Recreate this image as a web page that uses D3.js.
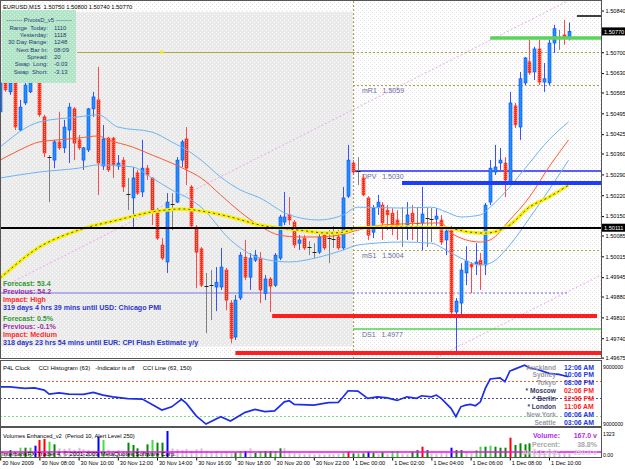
<!DOCTYPE html>
<html><head><meta charset="utf-8">
<script src="https://cdnjs.cloudflare.com/ajax/libs/d3/7.8.5/d3.min.js"></script>
<style>body{margin:0;background:#fff;}svg{display:block;font-family:"Liberation Sans",Arial,sans-serif;}</style>
</head><body><svg id="c" width="625" height="469"></svg>
<script>
// ---------------- DATA ----------------
const titleText = "EURUSD,M15  1.50750 1.50800 1.50740 1.50770";
const opens = [1.50500,1.50597,1.50567,1.50597,1.50439,1.50530,1.50567,1.50641,1.50597,1.50483,
1.50352,1.50338,1.50399,1.50379,1.50439,1.50510,1.50406,1.50338,1.50372,1.50510,
1.50540,1.50318,1.50412,1.50412,1.50318,1.50338,1.50221,1.50211,1.50295,1.50231,
1.50311,1.50278,1.50170,1.50053,1.49996,1.50187,1.50197,1.50338,1.50409,1.50248,
1.50113,1.50040,1.49912,1.49918,1.49912,1.49912,1.49969,1.49858,1.49744,1.49875,
1.50012,1.49945,1.50002,1.50009,1.49891,1.49939,1.49918,1.50009,1.50130,1.50154,
1.50130,1.50059,1.50076,1.50043,1.50029,1.50029,1.50086,1.50080,1.50076,1.50080,
1.50043,1.50217,1.50328,1.50305,1.50278,1.50211,1.50096,1.50180,1.50187,1.50170,
1.50160,1.50137,1.50117,1.50120,1.50160,1.50130,1.50127,1.50147,1.50143,1.50140,
1.50137,1.50070,1.50110,1.49828,1.49858,1.49959,1.49989,1.49989,1.50002,1.49986,
1.50197,1.50298,1.50328,1.50328,1.50264,1.50520,1.50449,1.50597,1.50668,1.50634,
1.50711,1.50600,1.50597,1.50731,1.50745,1.50758,1.50750];
const highs = [1.50607,1.50607,1.50614,1.50607,1.50540,1.50624,1.50641,1.50674,1.50624,1.50490,
1.50355,1.50406,1.50500,1.50473,1.50530,1.50516,1.50422,1.50382,1.50513,1.50567,
1.50651,1.50456,1.50416,1.50416,1.50355,1.50348,1.50278,1.50315,1.50305,1.50406,
1.50322,1.50280,1.50177,1.50076,1.50227,1.50227,1.50348,1.50406,1.50449,1.50254,
1.50120,1.50046,1.49959,1.49969,1.49979,1.50043,1.49976,1.49868,1.49885,1.50029,
1.50070,1.50026,1.50036,1.50029,1.49952,1.49945,1.50026,1.50154,1.50231,1.50214,
1.50137,1.50086,1.50086,1.50066,1.50059,1.50096,1.50096,1.50103,1.50117,1.50103,
1.50248,1.50389,1.50338,1.50348,1.50288,1.50217,1.50187,1.50221,1.50197,1.50187,
1.50177,1.50170,1.50180,1.50197,1.50187,1.50180,1.50248,1.50180,1.50177,1.50177,
1.50154,1.50113,1.50117,1.49875,1.49992,1.50049,1.49996,1.50059,1.50026,1.50194,
1.50338,1.50389,1.50379,1.50348,1.50567,1.50530,1.50634,1.50684,1.50742,1.50718,
1.50742,1.50664,1.50742,1.50792,1.50775,1.50809,1.50800];
const lows = [1.50490,1.50567,1.50557,1.50439,1.50436,1.50523,1.50563,1.50597,1.50483,1.50348,
1.50197,1.50311,1.50372,1.50362,1.50328,1.50338,1.50372,1.50305,1.50365,1.50483,
1.50221,1.50305,1.50298,1.50278,1.50305,1.50231,1.50170,1.50113,1.50221,1.50214,
1.50271,1.50120,1.50070,1.50002,1.49959,1.50103,1.50194,1.50315,1.50254,1.50110,
1.49908,1.49912,1.49757,1.49801,1.49831,1.49902,1.49834,1.49723,1.49734,1.49868,
1.49935,1.49902,1.49996,1.49858,1.49868,1.49828,1.49912,1.50002,1.50120,1.50120,
1.50043,1.50036,1.50036,1.50019,1.50009,1.50023,1.50036,1.49992,1.50043,1.50036,
1.50036,1.50211,1.50288,1.50254,1.50217,1.50070,1.50076,1.50154,1.50070,1.50103,
1.50086,1.50070,1.50046,1.50070,1.50070,1.50063,1.50036,1.50046,1.50063,1.50117,
1.50053,1.50019,1.49821,1.49693,1.49821,1.49918,1.49891,1.49952,1.49902,1.49952,
1.50187,1.50288,1.50305,1.50214,1.50261,1.50446,1.50406,1.50590,1.50624,1.50607,
1.50590,1.50567,1.50590,1.50698,1.50708,1.50725,1.50740];
const closes = [1.50597,1.50574,1.50597,1.50449,1.50516,1.50590,1.50597,1.50607,1.50490,1.50362,
1.50350,1.50399,1.50379,1.50449,1.50516,1.50395,1.50379,1.50379,1.50510,1.50550,
1.50328,1.50409,1.50305,1.50322,1.50328,1.50248,1.50223,1.50278,1.50227,1.50311,
1.50288,1.50170,1.50076,1.50009,1.50197,1.50189,1.50338,1.50399,1.50311,1.50117,
1.50029,1.49918,1.49914,1.49920,1.49928,1.49979,1.49868,1.49740,1.49868,1.50019,
1.49945,1.50009,1.50019,1.49902,1.49939,1.49915,1.50019,1.50147,1.50147,1.50137,
1.50053,1.50070,1.50043,1.50045,1.50031,1.50080,1.50043,1.50078,1.50074,1.50043,
1.50211,1.50338,1.50298,1.50303,1.50221,1.50086,1.50177,1.50197,1.50127,1.50154,
1.50120,1.50113,1.50115,1.50154,1.50130,1.50128,1.50157,1.50145,1.50141,1.50150,
1.50063,1.50100,1.49828,1.49865,1.49969,1.49999,1.49979,1.49996,1.49986,1.50187,
1.50311,1.50315,1.50338,1.50271,1.50530,1.50456,1.50611,1.50681,1.50631,1.50711,
1.50600,1.50611,1.50731,1.50779,1.50747,1.50752,1.50770];

// moving averages / bands: [bar index, price]
const bandUpper = [[0,1.50382],[8,1.50466],[16,1.50483],[20,1.50490],[24,1.50449],[31,1.50432],[35,1.50399],[39,1.50362],[41,1.50338],[45,1.50281],[49,1.50238],[53,1.50211],[59,1.50154],[65,1.50137],[70,1.50154],[73,1.50180],[82,1.50177],[88,1.50180],[91,1.50164],[94,1.50147],[98,1.50154],[100,1.50180],[104,1.50248],[108,1.50328],[112,1.50406],[116,1.50466]];
const maMiddle = [[0,1.50338],[4,1.50372],[8,1.50399],[12,1.50406],[16,1.50412],[20,1.50419],[22,1.50406],[27,1.50382],[31,1.50355],[35,1.50328],[38,1.50305],[41,1.50278],[45,1.50221],[49,1.50164],[53,1.50117],[57,1.50086],[61,1.50080],[65,1.50080],[69,1.50086],[73,1.50103],[78,1.50120],[90,1.50127],[92,1.50093],[98,1.50063],[100,1.50070],[104,1.50137],[108,1.50214],[112,1.50315],[116,1.50406]];
const bandLower = [[0,1.50278],[8,1.50298],[16,1.50311],[20,1.50322],[27,1.50315],[31,1.50278],[35,1.50238],[39,1.50204],[41,1.50180],[47,1.50070],[53,1.50009],[59,1.49996],[65,1.50012],[70,1.50036],[73,1.50053],[82,1.50063],[88,1.50059],[91,1.50036],[94,1.50009],[98,1.49986],[100,1.49992],[104,1.50053],[108,1.50143],[112,1.50238],[116,1.50338]];
const maSlow = [[0,1.49942],[8,1.50046],[16,1.50103],[24,1.50137],[31,1.50164],[37,1.50174],[41,1.50167],[47,1.50147],[53,1.50120],[61,1.50103],[67,1.50093],[70,1.50096],[73,1.50110],[82,1.50113],[91,1.50110],[96,1.50096],[99,1.50093],[104,1.50120],[108,1.50180],[112,1.50214],[116,1.50254]];

// trend lines (pink dotted): [bar index, price] end points
const trendA = [[0,1.49908],[116.3,1.50876]];
const trendB = [[88.3,1.49670],[122.6,1.49952]];

// horizontal objects: price, from bar, to bar, kind
const hlPrice = [1.50111,1.50822,1.50748,1.50701,1.50701,1.50590,1.50300,1.50261,1.50035,1.49892,1.49892,1.49813,1.49770,1.49692];
const hlFrom  = [-1,117.7,100,15.7,72,72,72,82,72,-1,72,55.5,72,48];
const hlTo    = [123,123,123,72,123,123,123,123,123,72,115.7,121.8,123,123];
const hlKind  = ["black","blackThin","green","oliveSolid","olive","olive","dpv","blueThick","olive","lav","lavDot","red","ds","red"];
const pivotNames = ["mR1","DPV","mS1","DS1"];
const pivotLevels = [1.5059,1.5030,1.5004,1.4977];
const pivotLinePrice = [1.50590,1.50300,1.50035,1.49770];

// session shading box [from bar, to bar, low, high]
const sessionBox = [-1,72,1.49713,1.50836];
const daySepIdx = 72;

const priceTicks = [1.50840,1.50700,1.50630,1.50565,1.50495,1.50425,1.50360,1.50290,1.50220,1.50150,1.50085,1.50015,1.49945,1.49880,1.49810,1.49740,1.49675];
const priceBoxes = [1.50770,1.50111];

const timeIdx = [0,8,16,24,32,40,48,56,64,72,80,88,96,104,112];
const timeLabels = ["30 Nov 2009","30 Nov 08:00","30 Nov 10:00","30 Nov 12:00","30 Nov 14:00","30 Nov 16:00","30 Nov 18:00","30 Nov 20:00","30 Nov 22:00","1 Dec 00:00","1 Dec 02:00","1 Dec 04:00","1 Dec 06:00","1 Dec 08:00","1 Dec 10:00"];

// CCI line [bar index, value]
const cci = [[0,67],[2,67],[5,58],[7,61],[9,48],[10,25],[12,32],[14,25],[17,23],[19,35],[21,19],[23,9],[26,-2],[29,-4],[31,-35],[33,-68],[35,-49],[37,-6],[38,-29],[40,-101],[42,-149],[45,-106],[47,-131],[50,-81],[52,-64],[54,-77],[56,-73],[58,-20],[59,-14],[60,-35],[64,-39],[67,-25],[69,-23],[70,9],[71,44],[73,42],[75,0],[77,9],[79,3],[81,-12],[83,9],[85,0],[86,15],[88,9],[89,19],[90,0],[92,-58],[93,-106],[94,-49],[95,-39],[96,-35],[97,-43],[98,-20],[99,58],[100,112],[102,119],[103,96],[104,158],[105,169],[107,192],[108,177],[110,164],[112,145],[114,139],[116,125]];
const cciLevels = [100,0,-100];
const cciAxisLabels = ["9000000","9000000"];

// volumes
const volumes = [260,200,343,230,456,456,456,554,833,882,750,622,426,400,430,350,450,380,350,300,995,833,350,300,350,300,701,588,426,300,622,833,701,701,1275,420,380,340,400,300,380,420,300,250,300,230,260,200,220,294,294,426,200,294,294,294,294,426,426,294,200,180,150,170,140,160,130,150,140,170,190,260,181,181,181,260,211,150,230,150,294,294,160,150,260,343,505,343,180,170,200,200,456,343,343,260,200,343,505,505,554,505,456,456,946,588,672,622,672,400,350,300,400,350,300,200,167];
const volClass = "dgdgldlbrrldggggggggblggggdddgdlddbgggggggggggggdlbgdlddldgggggggggggglrdldbdgdgllggddrdggggbddgglldldddrddddgggggggg";
const volMax = 1323, volAlert = 250;
const volInfoLabels = ["Volume:","Percent:","Alert Level:"];
const volInfoValues = ["167.0 v","38.8%","250.0 v"];

// pivot info box
const pivotBoxTitle = "-------- PivotsD_v5 --------";
const pivotBoxLabels = ["Range  Today:","Yesterday:","30 Day Range:","Next Bar In:","Spread:","Swap  Long:","Swap  Short:"];
const pivotBoxValues = ["1110","1118","1248","08:09","20","-0.03","-3.13"];

// news
const newsLines = ["Forecast: 53.4","Previous: 54.2","Impact: High","319 days 4 hrs 39 mins until USD: Chicago PMI","Forecast: 0.5%","Previous: -0.1%","Impact: Medium","318 days 23 hrs 54 mins until EUR: CPI Flash Estimate y/y"];
const newsKind = ["f","p","i","d","f","p","i","d"];

// clock
const clockCities = ["Auckland","Sydney","Tokyo","* Moscow","* Berlin","* London","New York","Seattle"];
const clockTimes = ["12:06 AM","10:06 PM","08:06 PM","02:06 PM","12:06 PM","11:06 AM","06:06 AM","03:06 AM"];
const clockOpen = [0,0,0,1,1,1,0,0];

const cciTitle = "P4L Clock     CCI Histogram (63)   -Indicator is off     CCI Line (63, 150)";
const volTitle = "Volumes Enhanced_v2  (Period 10, Alert Level 250)";
const copyright = "InterbankFX-Trader 4, \u00A9 2001-2009 MetaQuotes Software Corp.";

// ---------------- DRAW ----------------
const svg = d3.select("#c");
const defs = svg.append("defs");
function dotPat(id,bg,dot){
  const p = defs.append("pattern").attr("id",id).attr("width",4).attr("height",4).attr("patternUnits","userSpaceOnUse");
  p.append("rect").attr("width",4).attr("height",4).attr("fill",bg);
  p.append("rect").attr("x",0).attr("y",0).attr("width",1).attr("height",1).attr("fill",dot);
  p.append("rect").attr("x",2).attr("y",2).attr("width",1).attr("height",1).attr("fill",dot);
}
dotPat("pGray","#eaeaea","#fafafa");
dotPat("pWhite","#ffffff","#e2e2e2");
dotPat("pBox","#b2e4c8","#d6f2e2");
const bp = defs.append("pattern").attr("id","pBear").attr("width",2).attr("height",2).attr("patternUnits","userSpaceOnUse");
bp.append("rect").attr("width",2).attr("height",2).attr("fill","#ff2a1a");
bp.append("rect").attr("width",1).attr("height",1).attr("fill","#ff9a70");

const xR = 601;
const x = d3.scaleLinear().domain([0,116]).range([0.2,568.6]);
const y = d3.scaleLinear().domain([1.49675,1.50860]).range([357.6,4.6]);
const yc = d3.scaleLinear().domain([-160,222]).range([426,360]);
const yv = d3.scaleLinear().domain([0,volMax]).range([457,430]);

defs.append("clipPath").attr("id","clipMain").append("rect").attr("x",0).attr("y",1).attr("width",xR).attr("height",357);
defs.append("clipPath").attr("id","clipCci").append("rect").attr("x",0).attr("y",361).attr("width",xR).attr("height",65);
defs.append("clipPath").attr("id","clipVol").append("rect").attr("x",0).attr("y",428).attr("width",xR).attr("height",29);

// backgrounds
svg.append("rect").attr("x",0).attr("y",0).attr("width",625).attr("height",469).attr("fill","#fff");
svg.append("rect").attr("x",0).attr("y",1).attr("width",xR).attr("height",357).attr("fill","url(#pWhite)");
const main = svg.append("g").attr("clip-path","url(#clipMain)");
main.append("rect").attr("x",x(sessionBox[0])).attr("y",y(sessionBox[3]))
  .attr("width",x(sessionBox[1])-x(sessionBox[0])).attr("height",y(sessionBox[2])-y(sessionBox[3]))
  .attr("fill","url(#pGray)");

// day separator
main.append("line").attr("x1",Math.round(x(daySepIdx))+0.5).attr("x2",Math.round(x(daySepIdx))+0.5)
  .attr("y1",1).attr("y2",358).attr("stroke","#a8a050").attr("stroke-dasharray","2,2");

// trend lines
[trendA,trendB].forEach(t=>{
  main.append("line").attr("x1",x(t[0][0])).attr("y1",y(t[0][1])).attr("x2",x(t[1][0])).attr("y2",y(t[1][1]))
    .attr("stroke","#e8a8e8").attr("stroke-width",1).attr("stroke-dasharray","2,2");
});

const styleMap = {
  black:{c:"#000",w:2,d:null},
  blackThin:{c:"#000",w:1.5,d:null},
  green:{c:"#5ad35a",w:3.5,d:null},
  olive:{c:"#aea24a",w:1,d:"2,2"},
  oliveSolid:{c:"#b4a844",w:1,d:null},
  dpv:{c:"#2828ff",w:1.5,d:null},
  blueThick:{c:"#1e3cff",w:4,d:null},
  lav:{c:"#9c9ce8",w:1.5,d:null},
  lavDot:{c:"#9c9ce8",w:1.5,d:"2,2"},
  red:{c:"#ff1e1e",w:4,d:null},
  ds:{c:"#55d055",w:1.5,d:null}
};
const underKinds = new Set(["olive","oliveSolid","lav","lavDot","ds","dpv"]);
function drawLevels(filter){
  hlPrice.forEach((p,k)=>{
    if(!filter(hlKind[k])) return;
    const s = styleMap[hlKind[k]];
    const yy = Math.round(y(p)) + (s.w%2===1?0.5:0);
    const l = main.append("line").attr("x1",Math.max(0,x(hlFrom[k]))).attr("x2",Math.min(xR,x(hlTo[k])))
      .attr("y1",yy).attr("y2",yy).attr("stroke",s.c).attr("stroke-width",s.w);
    if(s.d) l.attr("stroke-dasharray",s.d);
  });
}
drawLevels(k=>underKinds.has(k));

// pivot labels
pivotNames.forEach((n,k)=>{
  main.append("text").attr("x",x(daySepIdx)+9).attr("y",y(pivotLinePrice[k])+8)
    .attr("font-size",7).attr("fill","#6a6aa0").attr("xml:space","preserve")
    .text(n+"   "+pivotLevels[k].toFixed(4));
});

// candles
const cg = main.append("g");
opens.forEach((o,i)=>{
  const c = closes[i], h = highs[i], l = lows[i];
  const cx = Math.round(x(i));
  const doji = Math.abs(o-c) < 0.000025;
  const bull = c > o;
  const wickCol = doji ? "#808080" : (bull ? "#3a50ff" : "#ff4a4a");
  cg.append("line").attr("x1",cx+0.5).attr("x2",cx+0.5).attr("y1",y(h)).attr("y2",y(l))
    .attr("stroke",wickCol).attr("stroke-width",1);
  if(doji){
    cg.append("line").attr("x1",cx-1.5).attr("x2",cx+2.5).attr("y1",Math.round(y(c))+0.5).attr("y2",Math.round(y(c))+0.5)
      .attr("stroke","#202020").attr("stroke-width",1);
  } else {
    const top = Math.min(y(o),y(c)), ht = Math.max(1.5,Math.abs(y(o)-y(c)));
    cg.append("rect").attr("x",cx-1).attr("y",top).attr("width",3).attr("height",ht)
      .attr("fill",bull ? "#1e90ff" : "url(#pBear)")
      .attr("stroke",bull ? "#0a4cf0" : "#ff2a1a").attr("stroke-width",0.6);
  }
});

// bands and MAs
const lineGen = d3.line().x(d=>x(d[0])).y(d=>y(d[1])).curve(d3.curveMonotoneX);
main.append("path").attr("d",lineGen(bandUpper)).attr("fill","none").attr("stroke","#6cb4f4").attr("stroke-width",1);
main.append("path").attr("d",lineGen(bandLower)).attr("fill","none").attr("stroke","#6cb4f4").attr("stroke-width",1);
main.append("path").attr("d",lineGen(maMiddle)).attr("fill","none").attr("stroke","#ff5a32").attr("stroke-width",1);
main.append("path").attr("d",lineGen(maSlow)).attr("fill","none").attr("stroke","#f8f000").attr("stroke-width",3.5);
main.append("path").attr("d",lineGen(maSlow)).attr("fill","none").attr("stroke","#303000").attr("stroke-width",0.8).attr("stroke-dasharray","2,3");

drawLevels(k=>!underKinds.has(k));

main.append("circle").attr("cx",x(33)).attr("cy",y(hlPrice[3])).attr("r",1.8).attr("fill","#f0f000");

// title
svg.append("text").attr("x",3).attr("y",8.5).attr("font-size",5.8).attr("fill","#000").attr("xml:space","preserve").text(titleText);

// pivot box
svg.append("rect").attr("x",2).attr("y",10).attr("width",74).attr("height",73).attr("fill","url(#pBox)");
svg.append("text").attr("x",39).attr("y",22).attr("text-anchor","middle").attr("font-size",6).attr("fill","#2a3a70").attr("xml:space","preserve").text(pivotBoxTitle);
pivotBoxLabels.forEach((lb,k)=>{
  const yy = 29.5 + k*7.35;
  svg.append("text").attr("x",48).attr("y",yy).attr("text-anchor","end").attr("font-size",6).attr("fill","#2a3a70").attr("xml:space","preserve").text(lb);
  svg.append("text").attr("x",54).attr("y",yy).attr("font-size",6).attr("fill","#2a3a70").text(pivotBoxValues[k]);
});

// news
const newsCol = {f:"#2f9a2f",p:"#9a2fa8",i:"#ff2a2a",d:"#2a36cc"};
newsLines.forEach((t,k)=>{
  const yy = 285.8 + k*8 + (k>=4?3:0);
  svg.append("text").attr("x",3).attr("y",yy).attr("font-size",7.1).attr("font-weight","bold").attr("fill",newsCol[newsKind[k]]).text(t);
});

// price axis
const ax = svg.append("g").attr("transform",`translate(${xR},0)`)
  .call(d3.axisRight(y).tickValues(priceTicks).tickFormat(d3.format(".5f")).tickSize(3).tickPadding(1.5));
ax.select(".domain").remove();
ax.selectAll("text").attr("font-size",5.6).attr("fill","#000").attr("font-family","Liberation Sans, Arial");
ax.selectAll("line").attr("stroke","#000");
priceBoxes.forEach(p=>{
  svg.append("rect").attr("x",xR+1).attr("y",y(p)-4).attr("width",24).attr("height",8).attr("fill","#000");
  svg.append("text").attr("x",xR+3).attr("y",y(p)+2.2).attr("font-size",5.6).attr("fill","#fff").text(p.toFixed(5));
});

// ---- CCI panel ----
const cg2 = svg.append("g").attr("clip-path","url(#clipCci)");
const levCol = ["#ff5a1e","#4a4a8a","#7cd87c"];
cciLevels.forEach((v,k)=>{
  cg2.append("line").attr("x1",0).attr("x2",xR).attr("y1",Math.round(yc(v))+0.5).attr("y2",Math.round(yc(v))+0.5)
    .attr("stroke",levCol[k]).attr("stroke-dasharray","2,2").attr("stroke-width",1);
});
cg2.append("path").attr("d",d3.line().x(d=>x(d[0])).y(d=>yc(d[1])).curve(d3.curveLinear)(cci))
  .attr("fill","none").attr("stroke","#1c2ee8").attr("stroke-width",1.7);
svg.append("text").attr("x",3).attr("y",369.5).attr("font-size",6).attr("fill","#000").attr("xml:space","preserve").text(cciTitle);
clockCities.forEach((c,k)=>{
  const yy = 369.5 + k*7.95;
  svg.append("text").attr("x",556).attr("y",yy).attr("text-anchor","end").attr("font-size",6.6).attr("font-weight","bold")
    .attr("fill",clockOpen[k] ? "#3a3a6e" : "#9a9aa6").attr("xml:space","preserve").text(c);
  svg.append("text").attr("x",564).attr("y",yy).attr("font-size",6.9).attr("font-weight","bold")
    .attr("fill",clockOpen[k] ? "#ff1e1e" : "#2438dc").text(clockTimes[k]);
});
svg.append("text").attr("x",603).attr("y",369).attr("font-size",5.2).attr("fill","#000").text(cciAxisLabels[0]);
svg.append("text").attr("x",603).attr("y",426).attr("font-size",5.2).attr("fill","#000").text(cciAxisLabels[1]);

// ---- Volume panel ----
const vg = svg.append("g").attr("clip-path","url(#clipVol)");
const vcol = {d:"#008c00",l:"#40e040",r:"#ff0000",b:"#0000ff",g:"#c8c8c8"};
volumes.forEach((v,i)=>{
  const cx = Math.round(x(i));
  vg.append("rect").attr("x",cx-0.5).attr("y",yv(v)).attr("width",2).attr("height",yv(0)-yv(v)).attr("fill",vcol[volClass[i]]);
});
vg.append("line").attr("x1",0).attr("x2",xR).attr("y1",yv(volAlert)).attr("y2",yv(volAlert)).attr("stroke","#ff00ff").attr("stroke-width",1.5);
svg.append("text").attr("x",3).attr("y",437.5).attr("font-size",5.75).attr("fill","#000").attr("xml:space","preserve").text(volTitle);
svg.append("text").attr("x",2).attr("y",455.5).attr("font-size",6.1).attr("fill","#000").text(copyright);
const viCol = ["#b030e0","#a8a8a8","#d0d0d0"];
volInfoLabels.forEach((lb,k)=>{
  const yy = 438 + k*8.6;
  svg.append("text").attr("x",560).attr("y",yy).attr("text-anchor","end").attr("font-size",7).attr("font-weight","bold").attr("fill",viCol[k]).text(lb);
  svg.append("text").attr("x",597).attr("y",yy).attr("text-anchor","end").attr("font-size",7).attr("font-weight","bold").attr("fill",viCol[k]).text(volInfoValues[k]);
});
svg.append("text").attr("x",603).attr("y",436).attr("font-size",5.2).attr("fill","#000").text(String(volMax));
svg.append("text").attr("x",603).attr("y",457).attr("font-size",5.2).attr("fill","#000").text("0.00");

// time axis
const tx = svg.append("g").attr("transform","translate(0,457.5)")
  .call(d3.axisBottom(x).tickValues(timeIdx).tickFormat((d,k)=>timeLabels[k]).tickSize(3).tickPadding(1));
tx.select(".domain").remove();
tx.selectAll("text").attr("font-size",5.6).attr("text-anchor","start").attr("dx",1.5).attr("fill","#000").attr("font-family","Liberation Sans, Arial");
tx.selectAll("line").attr("stroke","#000");

// frames
const fr = svg.append("g").attr("fill","none").attr("stroke","#555").attr("stroke-width",1).attr("shape-rendering","crispEdges");
fr.append("rect").attr("x",0.5).attr("y",0.5).attr("width",xR).attr("height",357.5);
fr.append("rect").attr("x",0.5).attr("y",360.5).attr("width",xR).attr("height",66);
fr.append("rect").attr("x",0.5).attr("y",427.5).attr("width",xR).attr("height",30);
</script></body></html>
